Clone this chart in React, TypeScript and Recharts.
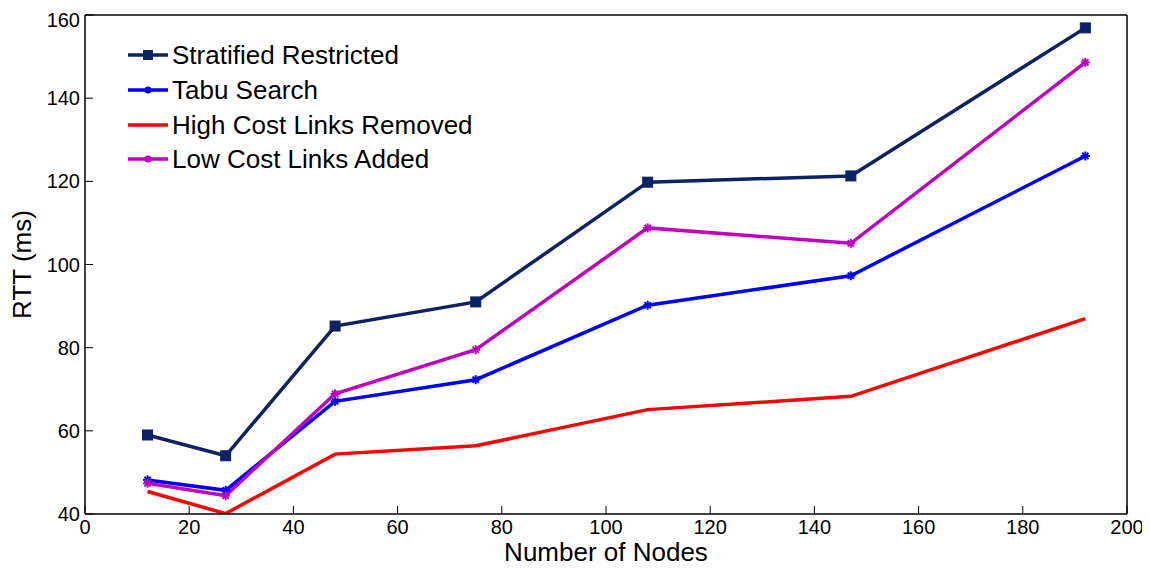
import React from 'react';
import { LineChart, Line, XAxis, YAxis, Label } from 'recharts';

const nodes = [12, 27, 48, 75, 108, 147, 192];
const stratified = [59, 54, 85.2, 91, 119.8, 121.3, 156.9];
const tabu = [48.2, 45.7, 67.1, 72.3, 90.2, 97.3, 126.1];
const highCost = [45.4, 40.1, 54.4, 56.4, 65.1, 68.3, 87];
const lowCost = [47.4, 44.4, 68.9, 79.5, 108.8, 105.1, 148.6];
const xTicks = [0, 20, 40, 60, 80, 100, 120, 140, 160, 180, 200];
const yTicks = [40, 60, 80, 100, 120, 140, 160];

const seriesNames = ['Stratified Restricted', 'Tabu Search', 'High Cost Links Removed', 'Low Cost Links Added'];
const colors = ['#0b2264', '#0000ff', '#ff0000', '#bf00bf'];

const data = nodes.map((n, i) => ({
  n,
  s: stratified[i],
  t: tabu[i],
  h: highCost[i],
  l: lowCost[i],
}));

const font = '"Liberation Sans", Arial, sans-serif';

const SquareDot = (props: any) => {
  const { cx, cy } = props;
  if (cx == null || cy == null) return null;
  return <rect x={cx - 5} y={cy - 5} width={10} height={10} fill={colors[0]} stroke={colors[0]} />;
};

const StarDot = (color: string) => (props: any) => {
  const { cx, cy } = props;
  if (cx == null || cy == null) return null;
  const r = 4.5;
  return (
    <g stroke={color} strokeWidth={2}>
      <line x1={cx - r} y1={cy} x2={cx + r} y2={cy} />
      <line x1={cx} y1={cy - r} x2={cx} y2={cy + r} />
      <line x1={cx - r * 0.7} y1={cy - r * 0.7} x2={cx + r * 0.7} y2={cy + r * 0.7} />
      <line x1={cx - r * 0.7} y1={cy + r * 0.7} x2={cx + r * 0.7} y2={cy - r * 0.7} />
    </g>
  );
};

const LegendBox = () => (
  <div style={{ position: 'absolute', left: 120, top: 30, fontFamily: font, fontSize: 26, color: '#000' }}>
    {seriesNames.map((name, i) => (
      <div key={name} style={{ display: 'flex', alignItems: 'center', height: 34.7 }}>
        <svg width={44} height={14} style={{ marginRight: 0 }}>
          <line x1={0} y1={7} x2={40} y2={7} stroke={colors[i]} strokeWidth={3.5} />
          {i === 0 && <rect x={15} y={2} width={10} height={10} fill={colors[0]} />}
          {(i === 1 || i === 3) && <circle cx={20} cy={7} r={3.5} fill={colors[i]} />}
        </svg>
        <span style={{ lineHeight: '30px' }}>{name}</span>
      </div>
    ))}
  </div>
);

export default function App() {
  return (
    <div style={{ position: 'relative', width: 1142, height: 561 }}>
      <LineChart
        width={1142}
        height={561}
        data={data}
        margin={{ top: 7, right: 23, left: 17, bottom: 8 }}
      >
        <XAxis
          dataKey="n"
          type="number"
          domain={[0, 200]}
          ticks={xTicks}
          tickSize={-8}
          tickMargin={14}
          height={47}
          axisLine={{ stroke: '#000', strokeWidth: 1.5 }}
          tickLine={{ stroke: '#000' }}
          tick={{ fill: '#000', fontSize: 20, fontFamily: font }}
          allowDataOverflow
        >
          <Label value="Number of Nodes" position="insideBottom" offset={0} style={{ fontSize: 26, fontFamily: font, fill: '#000' }} />
        </XAxis>
        <XAxis
          xAxisId="top"
          orientation="top"
          type="number"
          domain={[0, 200]}
          ticks={xTicks}
          mirror
          tick={false}
          tickSize={8}
          axisLine={{ stroke: '#000', strokeWidth: 1.5 }}
          tickLine={{ stroke: '#000' }}
        />
        <YAxis
          type="number"
          domain={[40, 160]}
          ticks={yTicks}
          width={60}
          tickSize={-8}
          tickMargin={13}
          axisLine={{ stroke: '#000', strokeWidth: 1.5 }}
          tickLine={{ stroke: '#000' }}
          tick={{ fill: '#000', fontSize: 20, fontFamily: font }}
          allowDataOverflow
        >
          <Label value="RTT (ms)" angle={-90} position="center" dx={-33} style={{ fontSize: 26, fontFamily: font, fill: '#000', textAnchor: 'middle' }} />
        </YAxis>
        <YAxis
          yAxisId="right"
          orientation="right"
          type="number"
          domain={[40, 160]}
          ticks={yTicks}
          mirror
          tick={false}
          tickSize={8}
          axisLine={{ stroke: '#000', strokeWidth: 1.5 }}
          tickLine={{ stroke: '#000' }}
        />
        <Line dataKey="h" name={seriesNames[2]} stroke={colors[2]} strokeWidth={3.5} dot={false} isAnimationActive={false} />
        <Line dataKey="t" name={seriesNames[1]} stroke={colors[1]} strokeWidth={3.5} dot={StarDot(colors[1])} isAnimationActive={false} />
        <Line dataKey="l" name={seriesNames[3]} stroke={colors[3]} strokeWidth={3.5} dot={StarDot(colors[3])} isAnimationActive={false} />
        <Line dataKey="s" name={seriesNames[0]} stroke={colors[0]} strokeWidth={3.5} dot={<SquareDot />} isAnimationActive={false} />
      </LineChart>
      <LegendBox />
    </div>
  );
}
